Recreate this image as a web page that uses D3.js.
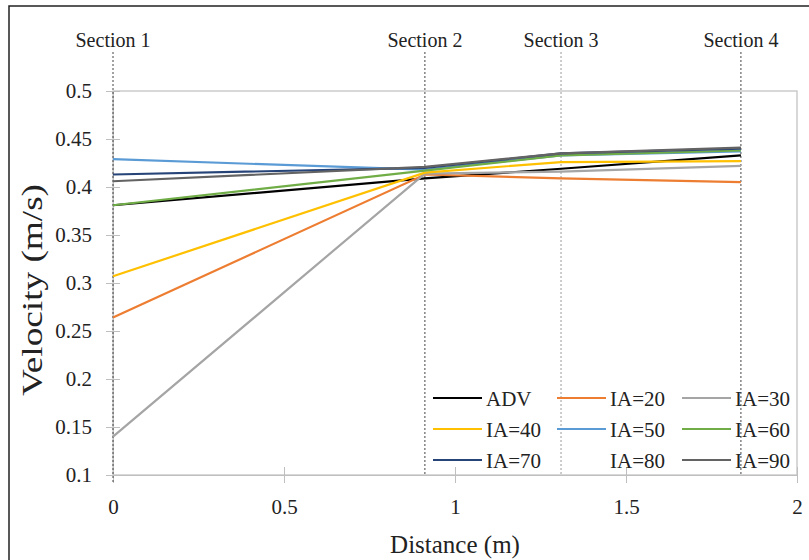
<!DOCTYPE html>
<html>
<head>
<meta charset="utf-8">
<script src="https://cdn.jsdelivr.net/npm/d3@7/dist/d3.min.js"></script>
<style>
  body { margin: 0; background: #fff; }
  svg text { font-family: "Liberation Serif", "DejaVu Serif", serif; }
</style>
</head>
<body>
<div id="chart"></div>
<script>
// distances of the four measuring sections (m)
var sections = ['Section 1', 'Section 2', 'Section 3', 'Section 4'];
var distances = [0, 0.912, 1.31, 1.836];

var seriesNames = ['ADV', 'IA=20', 'IA=30', 'IA=40', 'IA=50', 'IA=60', 'IA=70', 'IA=80', 'IA=90'];
var adv  = [0.381, 0.409, 0.419, 0.433];
var ia20 = [0.264, 0.413, 0.409, 0.405];
var ia30 = [0.140, 0.414, 0.416, 0.422];
var ia40 = [0.307, 0.415, 0.426, 0.427];
var ia50 = [0.429, 0.418, 0.433, 0.437];
var ia60 = [0.381, 0.417, 0.433, 0.438];
var ia70 = [0.413, 0.420, 0.435, 0.440];
var ia80 = null;   // shown in the legend only, no visible line
var ia90 = [0.406, 0.421, 0.435, 0.441];
var seriesValues = [adv, ia20, ia30, ia40, ia50, ia60, ia70, ia80, ia90];
var seriesColors = ['#000000', '#ED7D31', '#A5A5A5', '#FFC000', '#5B9BD5', '#70AD47', '#264478', 'none', '#636363'];

var xTicks = [0, 0.5, 1, 1.5, 2];
var yTicks = [0.1, 0.15, 0.2, 0.25, 0.3, 0.35, 0.4, 0.45, 0.5];

var width = 809, height = 560;
var svg = d3.select('#chart').append('svg')
    .attr('width', width)
    .attr('height', height);

// outer frame (only left and top edges are in view)
svg.append('rect')
    .attr('x', 9).attr('y', 6)
    .attr('width', 900).attr('height', 700)
    .attr('fill', 'none')
    .attr('stroke', '#222')
    .attr('stroke-width', 1.5);

var x = d3.scaleLinear().domain([0, 2]).range([113, 797]);
var y = d3.scaleLinear().domain([0.1, 0.5]).range([475, 91]);

// plot area box
svg.append('rect')
    .attr('x', x(0)).attr('y', y(0.5))
    .attr('width', x(2) - x(0)).attr('height', y(0.1) - y(0.5))
    .attr('fill', 'none')
    .attr('stroke', '#bfbfbf')
    .attr('stroke-width', 1.2);

// y axis
var yAxis = svg.append('g')
    .attr('transform', 'translate(' + x(0) + ',0)')
    .call(d3.axisLeft(y).tickValues(yTicks).tickFormat(d3.format('.2~f')).tickSize(7).tickPadding(14));
yAxis.select('.domain').attr('stroke', '#bfbfbf');
yAxis.selectAll('.tick line').attr('x1', 7).attr('x2', -7).attr('stroke', '#bfbfbf');
yAxis.selectAll('.tick text')
    .attr('font-size', 21).attr('fill', '#222');

// x axis
var xAxis = svg.append('g')
    .attr('transform', 'translate(0,' + y(0.1) + ')')
    .call(d3.axisBottom(x).tickValues(xTicks).tickFormat(d3.format('~g')).tickSize(8).tickPadding(16));
xAxis.select('.domain').attr('stroke', '#bfbfbf');
xAxis.selectAll('.tick line').attr('y1', -8).attr('y2', 8).attr('stroke', '#bfbfbf');
xAxis.selectAll('.tick text')
    .attr('font-size', 21).attr('fill', '#222');

// section markers
sections.forEach(function(name, i) {
    var sx = x(distances[i]);
    svg.append('line')
        .attr('x1', sx).attr('x2', sx)
        .attr('y1', 52).attr('y2', i === 0 ? 483 : y(0.1))
        .attr('stroke', i === 2 ? '#999' : '#444')
        .attr('stroke-width', 1)
        .attr('stroke-dasharray', '2,2');
    svg.append('text')
        .attr('x', sx).attr('y', 47)
        .attr('text-anchor', 'middle')
        .attr('font-size', 20)
        .attr('fill', '#222')
        .text(name);
});

// series lines
var line = d3.line()
    .x(function(d, i) { return x(distances[i]); })
    .y(function(d) { return y(d); });

seriesValues.forEach(function(vals, i) {
    if (!vals) { return; }
    svg.append('path')
        .datum(vals)
        .attr('d', line)
        .attr('fill', 'none')
        .attr('stroke', seriesColors[i])
        .attr('stroke-width', 2.2);
});

// legend, 3 columns
var legendCols = [433, 557, 682];
var legendRows = [398, 429, 460];
seriesNames.forEach(function(name, i) {
    var lx = legendCols[i % 3], ly = legendRows[Math.floor(i / 3)];
    svg.append('line')
        .attr('x1', lx).attr('x2', lx + 49)
        .attr('y1', ly).attr('y2', ly)
        .attr('stroke', seriesColors[i])
        .attr('stroke-width', 2.2);
    svg.append('text')
        .attr('x', lx + 53).attr('y', ly + 8)
        .attr('font-size', 21)
        .attr('fill', '#222')
        .text(name);
});

// axis titles
svg.append('text')
    .attr('x', 455).attr('y', 553)
    .attr('text-anchor', 'middle')
    .attr('font-size', 25)
    .attr('fill', '#222')
    .text('Distance (m)');

svg.append('text')
    .attr('transform', 'translate(42,290) rotate(-90)')
    .attr('text-anchor', 'middle')
    .attr('font-size', 29)
    .attr('textLength', 212)
    .attr('lengthAdjust', 'spacingAndGlyphs')
    .attr('fill', '#222')
    .text('Velocity (m/s)');
</script>
</body>
</html>
